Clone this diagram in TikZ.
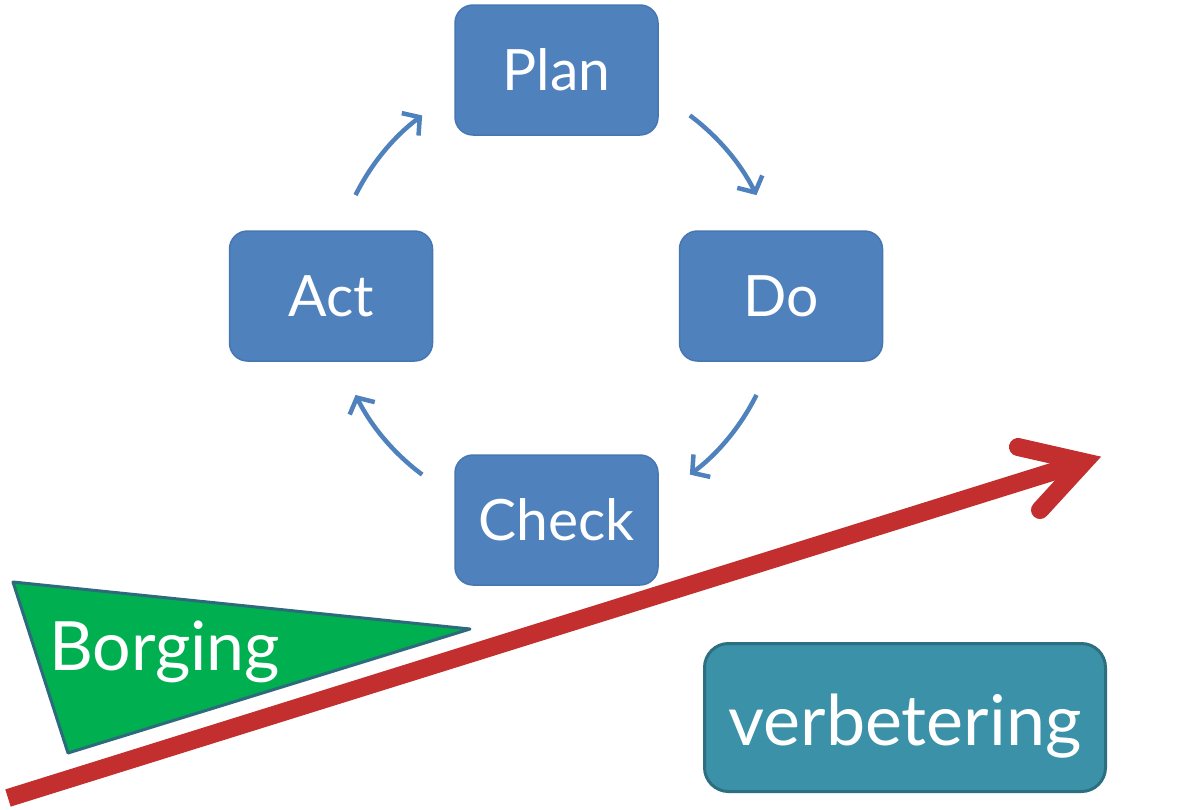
\documentclass[tikz,border=0pt]{standalone}
\usepackage{fontspec}
\setmainfont{Lato}
\usetikzlibrary{arrows.meta}
\definecolor{boxblue}{HTML}{4F81BD}
\definecolor{boxedge}{HTML}{4677B2}
\definecolor{arcblue}{HTML}{4F81BD}
\definecolor{bigred}{HTML}{C32E2E}
\definecolor{flaggreen}{HTML}{00B050}
\definecolor{flagedge}{HTML}{2C6A7C}
\definecolor{tealfill}{HTML}{3A91A8}
\definecolor{tealedge}{HTML}{2C6F80}
\begin{document}
\begin{tikzpicture}[x=1pt,y=-1pt,
  pdca/.style={draw=boxedge, fill=boxblue, rounded corners=18pt, minimum width=203pt,
    minimum height=130pt, line width=1.5pt, text=white, inner sep=0pt,
    font=\fontsize{57}{66}\selectfont},
  cyc/.style={draw=arcblue, line width=4.5pt,
    -{Straight Barb[length=12pt,width=28pt,line width=4.5pt]}},
  redline/.style={draw=bigred, line width=18pt},
  whitetext/.style={text=white, inner sep=0pt}]
\useasboundingbox (0,0) rectangle (1200,809);
\fill[white] (0,0) rectangle (1200,809);
% PDCA boxes
\node[pdca] (plan) at (556.5,70) {Plan};
\node[pdca] (do) at (781,296) {Do};
\node[pdca] (act) at (331,296) {Act};
\node[pdca] (check) at (556.5,520) {Check};
% cycle arcs
\coordinate (C) at (556,295);
\draw[cyc] (C) ++(-153.5:224) arc[start angle=-153.5, end angle=-126.7, radius=224];
\draw[cyc] (C) ++(-53.3:224) arc[start angle=-53.3, end angle=-26.5, radius=224];
\draw[cyc] (C) ++(26.5:224) arc[start angle=26.5, end angle=53.3, radius=224];
\draw[cyc] (C) ++(126.7:224) arc[start angle=126.7, end angle=153.5, radius=224];
% Borging flag
\coordinate (f1) at (13,582);
\coordinate (f2) at (470,629);
\coordinate (f3) at (68,753);
\draw[fill=flaggreen, draw=flagedge, line width=3pt, line join=round] (f1) -- (f2) -- (f3) -- cycle;
\node[whitetext, anchor=base west, font=\fontsize{68}{76}\selectfont] (borging) at (49,670) {Borging};
% red arrow
\coordinate (rs) at (8,798);
\coordinate (rv) at (1084,462);
\coordinate (bu) at (1018,447);
\coordinate (bl) at (1040,510);
\draw[redline] (rs) -- (rv);
\draw[redline, line join=miter, line cap=round] (bu) -- (rv) -- (bl);
% verbetering box
\node[draw=tealedge, fill=tealfill, line width=3pt, rounded corners=24pt,
  minimum width=401pt, minimum height=148pt] (verb) at (905,717.5) {};
\node[whitetext, anchor=base, font=\fontsize{70}{78}\selectfont] (verbtext) at (905,745) {verbetering};
\end{tikzpicture}
\end{document}
